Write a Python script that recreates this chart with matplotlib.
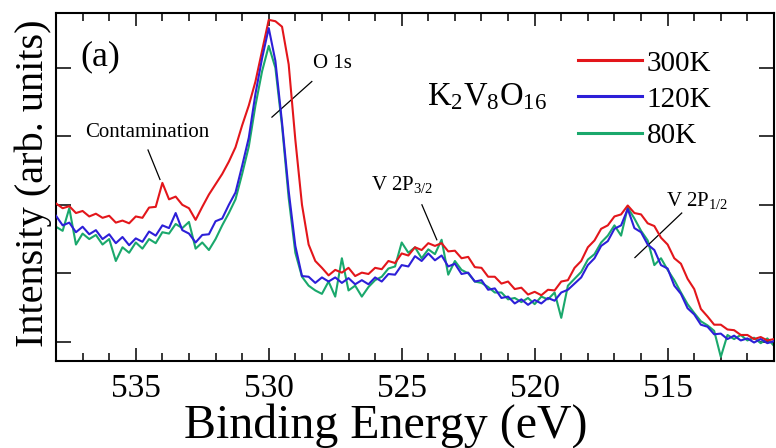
import numpy as np
import matplotlib
matplotlib.use("Agg")
import matplotlib.pyplot as plt

plt.rcParams['font.family'] = ['Liberation Serif', 'DejaVu Serif']
plt.rcParams['mathtext.fontset'] = 'custom'
plt.rcParams['mathtext.rm'] = 'Liberation Serif'
plt.rcParams['mathtext.it'] = 'Liberation Serif:italic'

# Binding energy grid (eV), 538 -> 511 in 0.25 eV steps
energy = np.linspace(538.0, 511.0, 109)

int_300K = [
    2.02, 1.95, 1.98, 1.88, 1.91, 1.83, 1.87, 1.81, 1.84, 1.74,
    1.77, 1.73, 1.83, 1.81, 1.96, 1.97, 2.32, 2.08, 2.12, 2.00,
    1.95, 1.78, 1.97, 2.15, 2.30, 2.45, 2.63, 2.84, 3.16, 3.45,
    3.80, 4.25, 4.70, 4.68, 4.60, 4.05, 2.95, 2.00, 1.42, 1.18,
    1.08, 0.97, 1.05, 1.01, 1.08, 0.96, 1.01, 0.99, 1.08, 1.06,
    1.18, 1.15, 1.29, 1.26, 1.38, 1.34, 1.44, 1.40, 1.44, 1.32,
    1.33, 1.22, 1.24, 1.09, 1.08, 0.95, 0.95, 0.85, 0.88, 0.77,
    0.79, 0.69, 0.73, 0.68, 0.76, 0.75, 0.88, 0.90, 1.08, 1.18,
    1.38, 1.48, 1.65, 1.70, 1.83, 1.86, 1.99, 1.88, 1.86, 1.73,
    1.69, 1.52, 1.42, 1.22, 1.14, 0.92, 0.77, 0.48, 0.37, 0.25,
    0.25, 0.18, 0.17, 0.10, 0.10, 0.04, 0.07, 0.02, 0.04,
]

int_120K = [
    1.84, 1.70, 1.74, 1.60, 1.68, 1.57, 1.63, 1.50, 1.57, 1.44,
    1.53, 1.41, 1.51, 1.46, 1.61, 1.55, 1.70, 1.66, 1.88, 1.63,
    1.58, 1.45, 1.56, 1.57, 1.76, 1.80, 2.00, 2.18, 2.57, 2.98,
    3.62, 4.14, 4.58, 4.10, 3.20, 2.20, 1.40, 0.96, 0.95, 0.86,
    0.94, 0.88, 0.94, 0.86, 0.93, 0.84, 0.90, 0.84, 0.94, 0.88,
    0.99, 0.98, 1.12, 1.10, 1.25, 1.18, 1.29, 1.19, 1.26, 1.10,
    1.14, 0.99, 1.01, 0.88, 0.90, 0.76, 0.78, 0.64, 0.66, 0.56,
    0.62, 0.54, 0.61, 0.56, 0.64, 0.60, 0.72, 0.76, 0.85, 0.94,
    1.12, 1.22, 1.40, 1.47, 1.65, 1.70, 1.94, 1.66, 1.60, 1.42,
    1.34, 1.12, 1.07, 0.82, 0.70, 0.49, 0.40, 0.25, 0.22, 0.11,
    0.12, 0.04, 0.09, 0.02, 0.05, -0.01, 0.04, -0.02, 0.01,
]

int_80K = [
    1.68, 1.62, 1.95, 1.42, 1.58, 1.50, 1.56, 1.42, 1.50, 1.18,
    1.38, 1.30, 1.45, 1.36, 1.50, 1.44, 1.60, 1.58, 1.72, 1.66,
    1.75, 1.36, 1.45, 1.34, 1.50, 1.70, 1.88, 2.08, 2.45, 2.85,
    3.45, 3.95, 4.32, 4.00, 3.15, 2.10, 1.30, 0.95, 0.82, 0.75,
    0.70, 0.88, 0.66, 1.22, 0.75, 0.82, 0.66, 0.80, 0.90, 0.95,
    1.07, 1.10, 1.45, 1.30, 1.38, 1.22, 1.35, 1.28, 1.49, 0.98,
    1.18, 1.05, 1.00, 0.88, 0.86, 0.80, 0.72, 0.72, 0.62, 0.64,
    0.58, 0.64, 0.55, 0.66, 0.62, 0.72, 0.35, 0.82, 0.92, 1.02,
    1.20, 1.28, 1.45, 1.55, 1.70, 1.55, 1.96, 1.80, 1.62, 1.48,
    1.12, 1.22, 1.05, 0.90, 0.72, 0.55, 0.42, 0.30, 0.24, 0.16,
    -0.22, 0.10, 0.04, 0.10, 0.02, 0.06, -0.02, 0.05, -0.06,
]

labels = ['300K', '120K', '80K']
colors = ['#e3161b', '#2d1fd8', '#1aa86c']

fig = plt.figure(figsize=(7.76, 4.48), dpi=100)
ax = fig.add_axes([56/776, 87/448, 718/776, 348/448])

l300, = ax.plot(energy, int_300K, color=colors[0], lw=1.5, label=labels[0], zorder=3)
l80, = ax.plot(energy, int_80K, color=colors[2], lw=1.5, label=labels[2], zorder=2)
l120, = ax.plot(energy, int_120K, color=colors[1], lw=1.5, label=labels[1], zorder=4)

ax.set_xlim(538, 511)
ax.set_ylim(-0.28, 4.8)
ax.set_xticks([535, 530, 525, 520, 515])
ax.set_xticks(np.arange(511, 539, 1), minor=True)
ax.set_yticks([0, 1, 2, 3, 4])
ax.set_yticklabels([])
ax.tick_params(which='both', direction='in', top=True, right=True, width=1.1)
ax.tick_params(which='major', length=9.5, labelsize=24, pad=9)
ax.tick_params(which='minor', length=5.5)
ax.tick_params(axis='y', which='major', length=10.5)
for s in ax.spines.values():
    s.set_linewidth(1.5)

ax.set_xlabel('Binding Energy (eV)', fontsize=34.5)
ax.xaxis.set_label_coords((386 - 56) / 718, -0.122)
ax.set_ylabel('Intensity (arb. units)', fontsize=29)
ax.yaxis.set_label_coords(-0.006, 0.51)

leg = ax.legend(handles=[l300, l120, l80], loc='upper left',
                bbox_to_anchor=(0.727, 0.893), frameon=False, fontsize=21,
                handlelength=2.2, handletextpad=0.15, labelspacing=0.33,
                borderpad=0, borderaxespad=0)
for h in leg.legend_handles:
    h.set_linewidth(2.2)

ax.text(537.1, 4.16, '(a)', fontsize=26, va='center', ha='left')
ax.text(521.8, 3.58, r'K$_2$V$_8$O$_{16}$', fontsize=23.5, va='center', ha='center')

ax.text(534.55, 3.05, 'Contamination', fontsize=15, ha='center', va='center')
ax.plot([534.54, 534.09], [2.80, 2.37], color='black', lw=0.9)

ax.text(527.6, 4.06, 'O 1s', fontsize=15, ha='center', va='center')
ax.plot([528.38, 529.88], [3.80, 3.28], color='black', lw=0.9)

ax.text(526.15, 2.30, r'V 2P$_{3/2}$', fontsize=15, ha='left', va='center')
ax.plot([524.24, 523.68], [2.0, 1.49], color='black', lw=0.9)

ax.text(515.05, 2.06, r'V 2P$_{1/2}$', fontsize=15, ha='left', va='center')
ax.plot([514.47, 516.23], [1.88, 1.23], color='black', lw=0.9)

fig.savefig('out.png', dpi=100)
